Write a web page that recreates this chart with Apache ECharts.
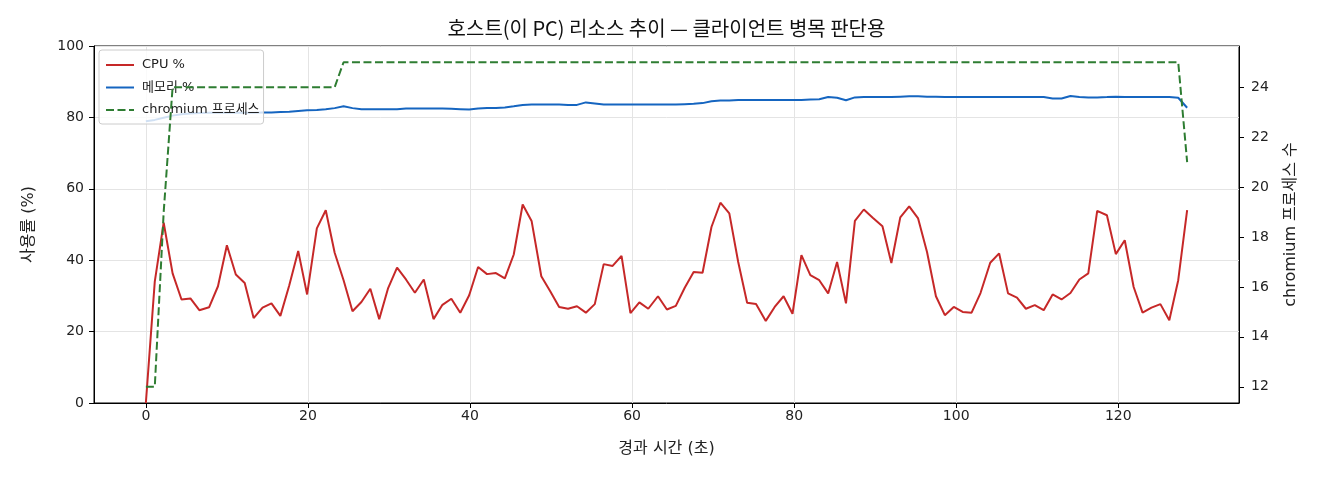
<!DOCTYPE html>
<html>
<head>
<meta charset="utf-8">
<script src="https://cdn.jsdelivr.net/npm/echarts@6/dist/echarts.min.js"></script>
<style>
  html, body { margin: 0; padding: 0; background: #ffffff; }
  #chart { width: 1320px; height: 480px; }
</style>
</head>
<body>
<div id="chart"></div>
<script>
// sample times (s), one sample roughly every 1.1 s
const elapsedSec = [
  0.0, 1.1, 2.2, 3.3, 4.4, 5.5, 6.6, 7.8, 8.9, 10.0,
  11.1, 12.2, 13.3, 14.4, 15.5, 16.6, 17.7, 18.8, 19.9, 21.1,
  22.2, 23.3, 24.4, 25.5, 26.6, 27.7, 28.8, 29.9, 31.0, 32.1,
  33.2, 34.3, 35.5, 36.6, 37.7, 38.8, 39.9, 41.0, 42.1, 43.2,
  44.3, 45.4, 46.5, 47.6, 48.8, 49.9, 51.0, 52.1, 53.2, 54.3,
  55.4, 56.5, 57.6, 58.7, 59.8, 60.9, 62.0, 63.2, 64.3, 65.4,
  66.5, 67.6, 68.7, 69.8, 70.9, 72.0, 73.1, 74.2, 75.3, 76.5,
  77.6, 78.7, 79.8, 80.9, 82.0, 83.1, 84.2, 85.3, 86.4, 87.5,
  88.6, 89.7, 90.9, 92.0, 93.1, 94.2, 95.3, 96.4, 97.5, 98.6,
  99.7, 100.8, 101.9, 103.0, 104.2, 105.3, 106.4, 107.5, 108.6, 109.7,
  110.8, 111.9, 113.0, 114.1, 115.2, 116.3, 117.4, 118.6, 119.7, 120.8,
  121.9, 123.0, 124.1, 125.2, 126.3, 127.4, 128.5
];

const cpuPct = [
  0, 34, 50.5, 36.3, 29, 29.3, 26, 26.8, 32.7, 44.2,
  36, 33.6, 23.8, 26.7, 27.9, 24.4, 33, 42.6, 30.4, 48.9,
  54, 42.1, 34.4, 25.7, 28.3, 32, 23.5, 32.2, 37.9, 34.6,
  30.9, 34.6, 23.5, 27.5, 29.2, 25.3, 30.2, 38.1, 36.1, 36.4,
  34.9, 41.6, 55.6, 51, 35.5, 31.3, 26.9, 26.4, 27.1, 25.3,
  27.7, 38.9, 38.4, 41.2, 25.2, 28.2, 26.4, 29.9, 26.2, 27.2,
  32.3, 36.7, 36.5, 49.3, 56.1, 53.1, 39.5, 28.1, 27.7, 23,
  26.9, 29.9, 25, 41.4, 35.8, 34.4, 30.7, 39.5, 27.9, 51,
  54.2, 51.9, 49.5, 39.2, 52, 55.1, 51.7, 42.3, 29.9, 24.6,
  26.9, 25.5, 25.3, 30.8, 39.3, 41.9, 30.7, 29.5, 26.4, 27.4,
  26, 30.4, 29, 30.8, 34.6, 36.3, 53.8, 52.6, 41.7, 45.6,
  32.5, 25.3, 26.7, 27.7, 23.2, 34.4, 54
];

const memPct = [
  78.9, 79.3, 79.9, 80.5, 80.9, 81.1, 81.2, 81.3, 81.3, 81.3,
  81.3, 81.3, 81.3, 81.4, 81.4, 81.5, 81.6, 81.8, 82.0, 82.1,
  82.3, 82.6, 83.1, 82.6, 82.3, 82.3, 82.3, 82.3, 82.3, 82.5,
  82.5, 82.5, 82.5, 82.5, 82.4, 82.3, 82.2, 82.5, 82.6, 82.6,
  82.8, 83.1, 83.5, 83.6, 83.6, 83.6, 83.6, 83.5, 83.5, 84.2,
  83.9, 83.6, 83.6, 83.6, 83.6, 83.6, 83.6, 83.6, 83.6, 83.6,
  83.7, 83.8, 84.0, 84.5, 84.7, 84.7, 84.9, 84.9, 84.9, 84.9,
  84.9, 84.9, 84.9, 84.9, 85.0, 85.1, 85.7, 85.5, 84.8, 85.6,
  85.7, 85.7, 85.7, 85.7, 85.8, 85.9, 85.9, 85.8, 85.8, 85.7,
  85.7, 85.7, 85.7, 85.7, 85.7, 85.7, 85.7, 85.7, 85.7, 85.7,
  85.7, 85.3, 85.3, 86.0, 85.7, 85.6, 85.6, 85.7, 85.8, 85.7,
  85.7, 85.7, 85.7, 85.7, 85.7, 85.5, 82.7
];

const chromiumProcs = [
  12, 12, 19, 24, 24, 24, 24, 24, 24, 24,
  24, 24, 24, 24, 24, 24, 24, 24, 24, 24,
  24, 24, 25, 25, 25, 25, 25, 25, 25, 25,
  25, 25, 25, 25, 25, 25, 25, 25, 25, 25,
  25, 25, 25, 25, 25, 25, 25, 25, 25, 25,
  25, 25, 25, 25, 25, 25, 25, 25, 25, 25,
  25, 25, 25, 25, 25, 25, 25, 25, 25, 25,
  25, 25, 25, 25, 25, 25, 25, 25, 25, 25,
  25, 25, 25, 25, 25, 25, 25, 25, 25, 25,
  25, 25, 25, 25, 25, 25, 25, 25, 25, 25,
  25, 25, 25, 25, 25, 25, 25, 25, 25, 25,
  25, 25, 25, 25, 25, 25, 21
];

const xTicks = [0, 20, 40, 60, 80, 100, 120];
const procTicks = [12, 14, 16, 18, 20, 22, 24];

// latin glyphs from DejaVu, hangul falls back to Noto CJK KR
const FONT = "'DejaVu Sans', 'Noto Sans CJK KR', sans-serif";
const GRID_COLOR = '#e4e4e4';

function withTime(values) {
  return values.map((v, i) => [elapsedSec[i], v]);
}

const chart = echarts.init(document.getElementById('chart'), null, { renderer: 'canvas' });

const tickStyle = { show: true, inside: false, length: 5, lineStyle: { color: '#000', width: 1 } };
const labelStyle = { color: '#222', fontSize: 14, fontFamily: FONT };
const nameStyle = { color: '#222', fontSize: 16, fontFamily: FONT };
const frameLine = { show: true, onZero: false, lineStyle: { color: '#000', width: 1 } };

chart.setOption({
  animation: false,
  backgroundColor: '#ffffff',
  grid: {
    left: 94,
    right: 81,
    top: 46,
    bottom: 77,
    show: true,
    borderColor: '#000',
    borderWidth: 1,
    backgroundColor: 'transparent',
    outerBoundsMode: 'none'
  },
  legend: {
    orient: 'vertical',
    left: 99,
    top: 50,
    z: 4,
    data: ['CPU %', '메모리 %', 'chromium 프로세스'],
    itemWidth: 28,
    itemHeight: 14,
    itemGap: 9.5,
    padding: [8.5, 4, 7.5, 6],
    backgroundColor: 'rgba(255,255,255,0.8)',
    borderColor: '#cccccc',
    borderWidth: 1,
    borderRadius: 3,
    itemStyle: { opacity: 0 },
    textStyle: { color: '#222', fontSize: 13, fontFamily: FONT, padding: [0, 0, 0, 3] }
  },
  graphic: [
    {
      type: 'text',
      x: 666.5,
      y: 28,
      silent: true,
      style: {
        text: '호스트(이 PC) 리소스 추이 — 클라이언트 병목 판단용',
        fill: '#111',
        fontSize: 20,
        fontFamily: "'Noto Sans CJK KR', 'DejaVu Sans', sans-serif",
        textAlign: 'center',
        textVerticalAlign: 'middle'
      }
    }
  ],
  xAxis: {
    type: 'value',
    min: -6.4,
    max: 134.9,
    splitNumber: 7,
    name: '경과 시간 (초)',
    nameLocation: 'middle',
    nameGap: 38,
    nameTextStyle: nameStyle,
    axisLine: frameLine,
    axisTick: Object.assign({ customValues: xTicks }, tickStyle),
    axisLabel: Object.assign({ customValues: xTicks, margin: 6 }, labelStyle),
    splitLine: { show: true, lineStyle: { color: GRID_COLOR, width: 1 } }
  },
  yAxis: [
    {
      type: 'value',
      min: 0,
      max: 100,
      interval: 20,
      position: 'left',
      name: '사용률 (%)',
      nameLocation: 'middle',
      nameGap: 57,
      nameRotate: 90,
      nameTextStyle: nameStyle,
      axisLine: frameLine,
      axisTick: tickStyle,
      axisLabel: Object.assign({ margin: 10 }, labelStyle),
      splitLine: { show: true, lineStyle: { color: GRID_COLOR, width: 1 } }
    },
    {
      type: 'value',
      min: 11.35,
      max: 25.65,
      position: 'right',
      name: 'chromium 프로세스 수',
      nameLocation: 'middle',
      nameGap: 44,
      nameRotate: 90,
      nameTextStyle: nameStyle,
      axisLine: frameLine,
      axisTick: Object.assign({ customValues: procTicks }, tickStyle),
      axisLabel: Object.assign({ customValues: procTicks, margin: 12, formatter: v => String(Math.round(v)) }, labelStyle),
      splitLine: { show: false }
    }
  ],
  series: [
    {
      name: 'CPU %',
      type: 'line',
      yAxisIndex: 0,
      z: 2,
      showSymbol: false,
      symbol: 'none',
      lineStyle: { color: '#c62828', width: 2 },
      itemStyle: { color: '#c62828' },
      data: withTime(cpuPct)
    },
    {
      name: '메모리 %',
      type: 'line',
      yAxisIndex: 0,
      z: 2,
      showSymbol: false,
      symbol: 'none',
      lineStyle: { color: '#1565c0', width: 2 },
      itemStyle: { color: '#1565c0' },
      data: withTime(memPct)
    },
    {
      name: 'chromium 프로세스',
      type: 'line',
      yAxisIndex: 1,
      z: 6,
      showSymbol: false,
      symbol: 'none',
      lineStyle: { color: '#2e7d32', width: 2, type: [8, 3.5] },
      itemStyle: { color: '#2e7d32' },
      data: withTime(chromiumProcs)
    }
  ]
});
</script>
</body>
</html>
